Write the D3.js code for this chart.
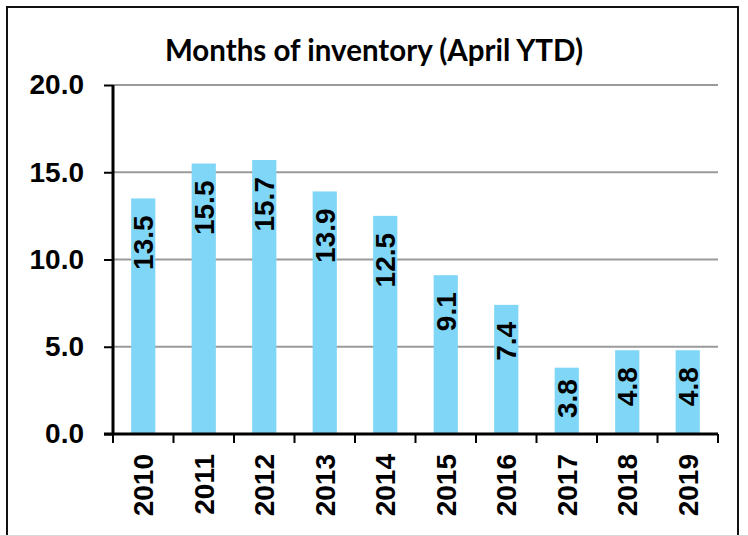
<!DOCTYPE html>
<html>
<head>
<meta charset="utf-8">
<script src="https://cdn.jsdelivr.net/npm/d3@7"></script>
<style>
  body { margin: 0; background: #fff; }
  text { font-family: "Liberation Sans", Arial, sans-serif; font-weight: bold; }
</style>
</head>
<body>
<div id="chart"></div>
<script>
// chart data
const years = ["2010", "2011", "2012", "2013", "2014", "2015", "2016", "2017", "2018", "2019"];
const months = [13.5, 15.5, 15.7, 13.9, 12.5, 9.1, 7.4, 3.8, 4.8, 4.8];
const yTicks = [0, 5, 10, 15, 20];
const chartTitle = "Months of inventory (April YTD)";

const width = 748, height = 536;
const margin = {top: 85, right: 30, bottom: 102, left: 113};

const svg = d3.select("#chart")
    .append("svg")
    .attr("width", width)
    .attr("height", height);

// outer frame
svg.append("rect")
    .attr("x", 7)
    .attr("y", 7)
    .attr("width", 731)
    .attr("height", 545)
    .attr("fill", "none")
    .attr("stroke", "#111")
    .attr("stroke-width", 2);

svg.append("line")
    .attr("x1", 0).attr("x2", width)
    .attr("y1", 535.5).attr("y2", 535.5)
    .attr("stroke", "#d8d8d8");

const x = d3.scaleBand()
    .domain(years)
    .range([margin.left, width - margin.right])
    .paddingInner(0.6)
    .paddingOuter(0.3);

const y = d3.scaleLinear()
    .domain([0, 20])
    .range([height - margin.bottom, margin.top]);

// gridlines
svg.append("g")
    .selectAll("line")
    .data(yTicks.filter(d => d > 0))
    .enter()
    .append("line")
    .attr("x1", margin.left)
    .attr("x2", width - margin.right)
    .attr("y1", d => y(d))
    .attr("y2", d => y(d))
    .attr("stroke", "#9a9a9a")
    .attr("stroke-width", 2);

// bars
svg.append("g")
    .selectAll("rect")
    .data(months)
    .enter()
    .append("rect")
    .attr("x", (d, i) => x(years[i]))
    .attr("y", d => y(d))
    .attr("width", x.bandwidth())
    .attr("height", d => y(0) - y(d))
    .attr("fill", "#7fd6f6");

// value labels, inside the bar near its top
const labels = svg.append("g")
    .selectAll("text")
    .data(months)
    .enter()
    .append("text")
    .attr("dy", "0.36em")
    .attr("text-anchor", "end")
    .attr("font-size", 28)
    .attr("fill", "#000")
    .text(d => d.toFixed(1));

labels.attr("transform", function (d, i) {
    let len = this.getComputedTextLength();
    let barH = y(0) - y(d);
    let off = Math.min(17, barH - len - 16);
    return `translate(${x(years[i]) + x.bandwidth() / 2}, ${y(d) + off}) rotate(-90)`;
});

// y axis
const yAxis = svg.append("g")
    .attr("transform", `translate(${margin.left},0)`)
    .call(d3.axisLeft(y).tickValues(yTicks).tickFormat(d3.format(".1f")).tickSize(9).tickPadding(20));
yAxis.select(".domain").attr("stroke", "#000").attr("stroke-width", 3).attr("d", `M0,${y(20)}V${y(0)}`);
yAxis.selectAll(".tick line").attr("stroke", "#000").attr("stroke-width", 2);
yAxis.selectAll(".tick text")
    .attr("font-size", 28)
    .attr("font-family", "Liberation Sans, Arial, sans-serif")
    .attr("font-weight", "bold")
    .attr("fill", "#000");

// x axis, ticks between categories
const step = (width - margin.right - margin.left) / years.length;
const xAxisG = svg.append("g");
xAxisG.append("line")
    .attr("x1", margin.left - 9)
    .attr("x2", width - margin.right)
    .attr("y1", y(0))
    .attr("y2", y(0))
    .attr("stroke", "#000")
    .attr("stroke-width", 3);
xAxisG.selectAll("line.tk")
    .data(d3.range(years.length + 1))
    .enter()
    .append("line")
    .attr("class", "tk")
    .attr("x1", i => margin.left + i * step)
    .attr("x2", i => margin.left + i * step)
    .attr("y1", y(0))
    .attr("y2", y(0) + 9)
    .attr("stroke", "#000")
    .attr("stroke-width", 2);

xAxisG.selectAll("text")
    .data(years)
    .enter()
    .append("text")
    .attr("transform", d => `translate(${x(d) + x.bandwidth() / 2}, ${y(0) + 20}) rotate(-90)`)
    .attr("dy", "0.36em")
    .attr("text-anchor", "end")
    .attr("font-size", 28)
    .attr("fill", "#000")
    .text(d => d);

// title
svg.append("text")
    .attr("x", 374)
    .attr("y", 61)
    .attr("text-anchor", "middle")
    .attr("font-size", 29.5)
    .style("font-family", "Lato, 'Open Sans', sans-serif")
    .attr("fill", "#000")
    .text(chartTitle);
</script>
</body>
</html>
